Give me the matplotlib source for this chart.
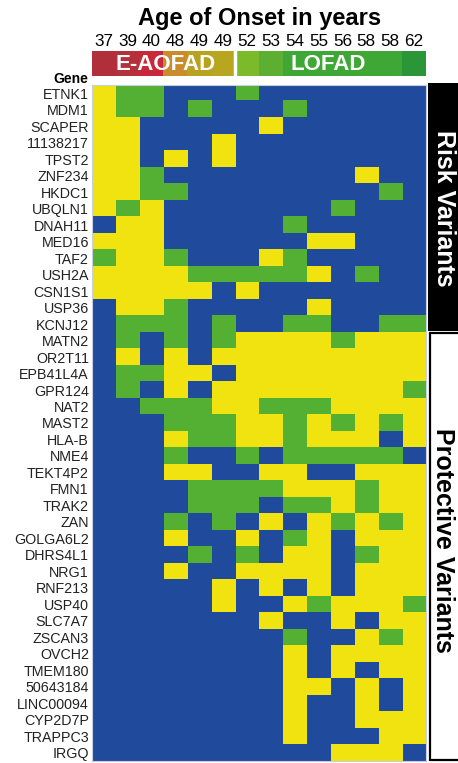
import numpy as np
import matplotlib
matplotlib.use("Agg")
import matplotlib.pyplot as plt
from matplotlib.colors import ListedColormap
from matplotlib.patches import Rectangle

plt.rcParams['font.family'] = ['Liberation Sans', 'DejaVu Sans']

# Alter bei Erkrankungsbeginn (Spalten)
ages = ["37", "39", "40", "48", "49", "49", "52", "53", "54", "55", "56", "58", "58", "62"]
header_colors = ["#b02f3b", "#b4303b", "#c8293a", "#c98c2a", "#b9a21f", "#b9a620",
                 "#7bba2a", "#5daf31", "#3ea735", "#3ea735", "#3ea735", "#3ea735",
                 "#3ea735", "#2b9638"]
groups = ["E-AOFAD", "LOFAD"]

genes = ["ETNK1", "MDM1", "SCAPER", "11138217", "TPST2", "ZNF234", "HKDC1", "UBQLN1",
         "DNAH11", "MED16", "TAF2", "USH2A", "CSN1S1", "USP36", "KCNJ12",
         "MATN2", "OR2T11", "EPB41L4A", "GPR124", "NAT2", "MAST2", "HLA-B", "NME4",
         "TEKT4P2", "FMN1", "TRAK2", "ZAN", "GOLGA6L2", "DHRS4L1", "NRG1", "RNF213",
         "USP40", "SLC7A7", "ZSCAN3", "OVCH2", "TMEM180", "50643184", "LINC00094",
         "CYP2D7P", "TRAPPC3", "IRGQ"]
n_risk = 15

# B = blau, G = gruen, Y = gelb
calls = ["YGGBBBGBBBBBBB",
         "YGGBGBBBGBBBBB",
         "YYBBBBBYBBBBBB",
         "YYBBBYBBBBBBBB",
         "YYBYBYBBBBBBBB",
         "YYGBBBBBBBBYBB",
         "YYGGBBBBBBBBGB",
         "YGYBBBBBBBGBBB",
         "BYYBBBBBGBBBBB",
         "YYYBBBBBBYYBBB",
         "GYYGBBBYGBBBBB",
         "YYYYGGGGGYBGBB",
         "YYYYYBYBBBBBBB",
         "BYYGBBBBBYBBBB",
         "BGGGBGBBGGBBGG",
         "BGBGBGYYYYGYYY",
         "BYBYBYYYYYYYYY",
         "BGGYYBYYYYYYYY",
         "BGBYBYYYYYYYYG",
         "BBGGGYYGGGYYYY",
         "BBBGGGYYGYGYGY",
         "BBBYGGYYGYYYBY",
         "BBBGBBGBGGGGGB",
         "BBBYYBBYYBBYYY",
         "BBBBGGGGYYYGYY",
         "BBBBGGGBGGYGYY",
         "BBBGBGBYBYGYGY",
         "BBBYBBYBGYBYYY",
         "BBBBGBGBYYBGYY",
         "BBBYBBYYYYBYYY",
         "BBBBBYBYBYBYYY",
         "BBBBBYBBYGYYYG",
         "BBBBBBBYBBYBYY",
         "BBBBBBBBGBBYGY",
         "BBBBBBBBYBYYYY",
         "BBBBBBBBYBYBYY",
         "BBBBBBBBYYBYBY",
         "BBBBBBBBYBBYBY",
         "BBBBBBBBYBBYYY",
         "BBBBBBBBYBBBYY",
         "BBBBBBBBBBYYYB"]

code = {"B": 0, "G": 1, "Y": 2}
mat = np.array([[code[c] for c in row] for row in calls])

W, H = 458, 763
fig = plt.figure(figsize=(W / 100, H / 100), dpi=100)

def frac(x0, y0, x1, y1):
    return [x0 / W, 1 - y1 / H, (x1 - x0) / W, (y1 - y0) / H]

# Heatmap
ax = fig.add_axes(frac(91.7, 85, 426, 761))
cmap = ListedColormap(["#204a9c", "#53b032", "#f1e30f"])
ax.imshow(mat, cmap=cmap, vmin=0, vmax=2, aspect='auto', interpolation='nearest')
ax.set_xticks([])
ax.set_yticks(range(len(genes)))
ax.set_yticklabels(genes, fontsize=10.3, color="#222222")
ax.tick_params(axis='y', length=0, pad=2)
for s in ax.spines.values():
    s.set_color("#c8cde0")
    s.set_linewidth(0.8)

# Kopfzeile mit Gruppen
hax = fig.add_axes(frac(91.7, 51, 426, 76))
hax.bar(range(len(ages)), 1, width=1.0, color=header_colors, edgecolor='none')
hax.set_xlim(-0.5, len(ages) - 0.5)
hax.set_ylim(0, 1)
hax.axvline(5.5, color="white", lw=2.5)
hax.set_xticks(range(len(ages)))
hax.set_xticklabels(ages, fontsize=12.3)
hax.xaxis.tick_top()
hax.tick_params(axis='x', length=0, pad=1.5)
hax.set_yticks([])
for s in hax.spines.values():
    s.set_visible(False)
hax.text(2.6, 0.48, groups[0], color="white", fontsize=16, fontweight='bold', ha='center', va='center')
hax.text(9.4, 0.48, groups[1], color="white", fontsize=16, fontweight='bold', ha='center', va='center')

fig.text(260 / W, 1 - 18 / H, "Age of Onset in years", fontsize=17, fontweight='bold',
         ha='center', va='center')
fig.text(88 / W, 1 - 79 / H, "Gene", fontsize=10, fontweight='bold', ha='right', va='center')

# Seitliche Kaesten
row_h = (761 - 85) / len(genes)
y_split = 85 + n_risk * row_h
fig.patches.append(Rectangle((428 / W, 1 - (y_split - 1.5) / H), 40 / W, (y_split - 1.5 - 83) / H,
                             transform=fig.transFigure, facecolor="black", edgecolor="none"))
fig.patches.append(Rectangle((429.8 / W, 1 - 760 / H), 40 / W, (760 - y_split - 0.5) / H,
                             transform=fig.transFigure, facecolor="white", edgecolor="black", lw=1.6))
fig.text(444 / W, 1 - 208 / H, "Risk Variants", color="white", fontsize=18, fontweight='bold',
         rotation=270, ha='center', va='center')
fig.text(443 / W, 1 - 540 / H, "Protective Variants", color="black", fontsize=18, fontweight='bold',
         rotation=270, ha='center', va='center')

fig.savefig("out.png", dpi=100)
